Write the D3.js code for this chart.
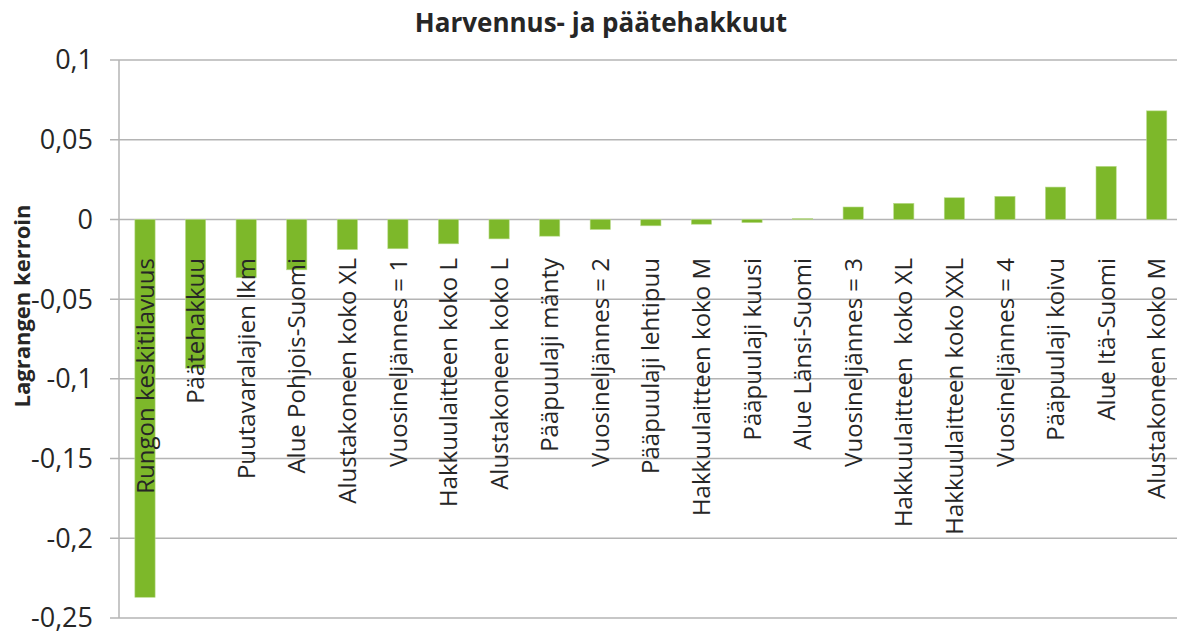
<!DOCTYPE html>
<html>
<head>
<meta charset="utf-8">
<script src="https://cdn.jsdelivr.net/npm/d3@7"></script>
<style>
  body { margin: 0; background: #fff; }
  text { font-family: "Open Sans", sans-serif; fill: #262626; }
</style>
</head>
<body>
<svg id="chart"></svg>
<script>
// Harvennus- ja päätehakkuut, Lagrange multipliers
var categories = ["Rungon keskitilavuus", "Päätehakkuu", "Puutavaralajien lkm", "Alue Pohjois-Suomi",
    "Alustakoneen koko XL", "Vuosineljännes = 1", "Hakkuulaitteen koko L", "Alustakoneen koko L",
    "Pääpuulaji mänty", "Vuosineljännes = 2", "Pääpuulaji lehtipuu", "Hakkuulaitteen koko M",
    "Pääpuulaji kuusi", "Alue Länsi-Suomi", "Vuosineljännes = 3", "Hakkuulaitteen  koko XL",
    "Hakkuulaitteen koko XXL", "Vuosineljännes = 4", "Pääpuulaji koivu", "Alue Itä-Suomi",
    "Alustakoneen koko M"]
var values = [-0.237, -0.0933, -0.0365, -0.0316, -0.0189, -0.0184, -0.0153, -0.0122, -0.0105, -0.0063,
    -0.004, -0.003, -0.002, 0.0005, 0.0078, 0.0101, 0.0136, 0.0145, 0.0203, 0.0333, 0.0681]
var yTicks = [0.1, 0.05, 0, -0.05, -0.1, -0.15, -0.2, -0.25]
var titleText = "Harvennus- ja päätehakkuut"
var yTitle = "Lagrangen kerroin"

var width = 1177, height = 631
var plotLeft = 119.7, plotRight = 1182, plotTop = 60, plotBottom = 618

var svg = d3.select("#chart").attr("width", width).attr("height", height)

var x = d3.scaleBand().domain(categories).range([plotLeft, plotRight]).padding(0)
var y = d3.scaleLinear().domain([-0.25, 0.1]).range([plotBottom, plotTop])
var barW = x.bandwidth() * 0.4
var fmt = function(d) { return d === 0 ? "0" : String(d).replace(".", ",") }

// gridlines + tick marks
svg.append("g")
    .selectAll("line")
    .data(yTicks)
    .enter().append("line")
    .attr("x1", 110).attr("x2", plotRight)
    .attr("y1", function(d) { return y(d) }).attr("y2", function(d) { return y(d) })
    .style("stroke", "#b4b4b4").style("stroke-width", 1.5)

svg.append("line")
    .attr("x1", 119).attr("x2", 119)
    .attr("y1", plotTop).attr("y2", plotBottom)
    .style("stroke", "#b4b4b4").style("stroke-width", 1.5)

svg.append("g")
    .selectAll("text")
    .data(yTicks)
    .enter().append("text")
    .attr("x", 93).attr("y", function(d) { return y(d) })
    .attr("dy", "0.35em")
    .attr("text-anchor", "end")
    .style("font-size", "27px")
    .text(fmt)

// bars
svg.append("g")
    .selectAll("rect")
    .data(values)
    .enter().append("rect")
    .attr("x", function(d, i) { return x(categories[i]) + (x.bandwidth() - barW) / 2 })
    .attr("width", barW)
    .attr("y", function(d) { return y(Math.max(0, d)) })
    .attr("height", function(d) { return Math.abs(y(d) - y(0)) })
    .style("fill", "#7db82a")
    .style("stroke", "#b9db8c").style("stroke-width", 0.6)

// category labels, rotated
svg.append("g")
    .selectAll("text")
    .data(categories)
    .enter().append("text")
    .attr("transform", function(d) { return "translate(" + (x(d) + x.bandwidth() / 2) + ",258) rotate(-90)" })
    .attr("dy", "0.36em")
    .attr("text-anchor", "end")
    .style("font-size", "24px")
    .style("white-space", "pre")
    .text(function(d) { return d })

svg.append("text")
    .attr("x", 601).attr("y", 32)
    .attr("text-anchor", "middle")
    .style("font-size", "26px").style("font-weight", "bold")
    .text(titleText)

svg.append("text")
    .attr("transform", "translate(22,306) rotate(-90)")
    .attr("dy", "0.35em")
    .attr("text-anchor", "middle")
    .style("font-size", "22px").style("font-weight", "bold")
    .text(yTitle)
</script>
</body>
</html>
